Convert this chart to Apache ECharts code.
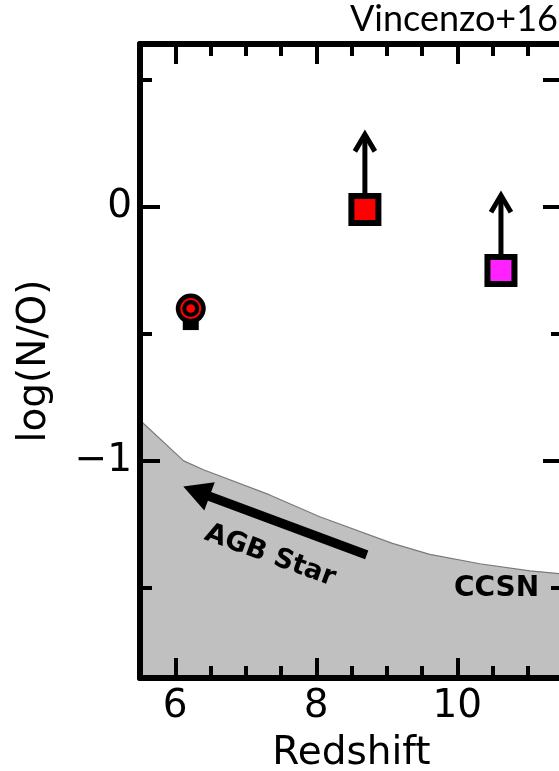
<!DOCTYPE html>
<html>
<head>
<meta charset="utf-8">
<script src="https://cdn.jsdelivr.net/npm/echarts@6/dist/echarts.min.js"></script>
<style>
  html, body { margin: 0; padding: 0; background: #ffffff; }
  #chart { width: 559px; height: 771px; }
</style>
</head>
<body>
<div id="chart"></div>
<script>
// ---- measurements: redshift vs log(N/O) ----
const circleZ = [6.22];
const circleNO = [-0.40];
const circleErrLow = [0.065];

const redZ = [8.69];
const redNO = [-0.01];
const magentaZ = [10.62];
const magentaNO = [-0.25];
const limitLength = 0.30;          // lower-limit arrow length (dex)

// shaded CCSN / AGB region boundary
const bandZ  = [5.5, 6.12, 6.40, 7.34, 8.05, 9.08, 9.61, 10.32, 11.03, 11.5];
const bandNO = [-0.84, -1.0, -1.035, -1.134, -1.22, -1.325, -1.368, -1.405, -1.433, -1.445];

// AGB arrow (tail -> head) and text anchors
const agbArrow = [8.716, -1.370, 6.114, -1.101];
const agbText = [7.344, -1.374];
const ccsnText = [10.557, -1.504];

// axis ticks
const xMajor = [6, 8, 10];
const xMinor = [6.5, 7, 7.5, 8.5, 9, 9.5, 10.5, 11];
const yMajorLeft = [-1, 0];
const yMinorLeft = [-1.5, -0.5, 0.5];
const yMajorRight = [-1, 0, 0.5];
const yMinorRight = [-1.5, -0.5];

const X_MIN = 5.5, X_MAX = 11.5;
const Y_MIN = -1.855, Y_MAX = 0.642;

const FONT = '"DejaVu Sans", sans-serif';
const LINE_W = 6;
const TICK_W = 4;
const MAJOR_LEN = 20;
const MINOR_LEN = 12;

const fmt = v => (v < 0 ? '\u2212' + Math.abs(v) : String(v));

function xAxisDef(position, ticks, len, opts) {
  return Object.assign({
    type: 'value', position: position, min: X_MIN, max: X_MAX, z: 10,
    splitLine: { show: false },
    axisLine: { show: false, onZero: false },
    axisTick: { show: true, inside: true, length: len, customValues: ticks,
                lineStyle: { color: '#000', width: TICK_W } },
    axisLabel: { show: false }
  }, opts || {});
}
function yAxisDef(position, ticks, len, opts) {
  return Object.assign({
    type: 'value', position: position, min: Y_MIN, max: Y_MAX, z: 10,
    splitLine: { show: false },
    axisLine: { show: false, onZero: false },
    axisTick: { show: true, inside: true, length: len, customValues: ticks,
                lineStyle: { color: '#000', width: TICK_W } },
    axisLabel: { show: false }
  }, opts || {});
}

const chart = echarts.init(document.getElementById('chart'), null, { renderer: 'canvas' });

const option = {
  animation: false,
  backgroundColor: '#ffffff',
  grid: { left: 140, right: -4, top: 44, bottom: 93, containLabel: false, outerBoundsMode: 'none' },
  graphic: [{
    type: 'text', right: 1, top: 1, z: 20,
    style: { text: 'Vincenzo+16', font: '36px Lato, "Open Sans", sans-serif', fill: '#000' }
  }],
  xAxis: [
    xAxisDef('bottom', xMajor, MAJOR_LEN, {
      axisLine: { show: true, onZero: false, lineStyle: { color: '#000', width: LINE_W } },
      axisLabel: { show: true, customValues: xMajor, margin: 9, formatter: fmt,
                   color: '#000', fontSize: 39, fontFamily: FONT },
      name: 'Redshift', nameLocation: 'middle', nameGap: 56,
      nameTextStyle: { color: '#000', fontSize: 39, fontFamily: FONT }
    }),
    xAxisDef('bottom', xMinor, MINOR_LEN),
    xAxisDef('top', xMajor, MAJOR_LEN, {
      axisLine: { show: true, onZero: false, lineStyle: { color: '#000', width: LINE_W } }
    }),
    xAxisDef('top', xMinor, MINOR_LEN)
  ],
  yAxis: [
    yAxisDef('left', yMajorLeft, MAJOR_LEN, {
      axisLine: { show: true, onZero: false, lineStyle: { color: '#000', width: LINE_W } },
      axisLabel: { show: true, customValues: yMajorLeft, margin: 8, formatter: fmt,
                   color: '#000', fontSize: 39, fontFamily: FONT },
      name: 'log(N/O)', nameLocation: 'middle', nameGap: 86, nameRotate: 90,
      nameTextStyle: { color: '#000', fontSize: 39, fontFamily: FONT }
    }),
    yAxisDef('left', yMinorLeft, MINOR_LEN),
    yAxisDef('right', yMajorRight, MAJOR_LEN, {
      axisLine: { show: true, onZero: false, lineStyle: { color: '#000', width: LINE_W } }
    }),
    yAxisDef('right', yMinorRight, MINOR_LEN)
  ],
  series: [
    // shaded region
    {
      type: 'line', xAxisIndex: 0, yAxisIndex: 0, z: 1,
      data: bandZ.map((z, i) => [z, bandNO[i]]),
      symbol: 'none', silent: true,
      lineStyle: { color: '#7a7a7a', width: 1.2 },
      areaStyle: { color: '#c0c0c0', opacity: 1, origin: 'start' }
    },
    // AGB arrow
    {
      type: 'custom', xAxisIndex: 0, yAxisIndex: 0, z: 3, silent: true,
      data: [agbArrow],
      renderItem: function (params, api) {
        const t = api.coord([api.value(0), api.value(1)]);
        const h = api.coord([api.value(2), api.value(3)]);
        const dx = h[0] - t[0], dy = h[1] - t[1];
        const L = Math.sqrt(dx * dx + dy * dy);
        const ux = dx / L, uy = dy / L, nx = -uy, ny = ux;
        const hw = 4.6, headLen = 28, headHalf = 15;
        const bx = h[0] - ux * headLen, by = h[1] - uy * headLen;
        return {
          type: 'polygon',
          shape: { points: [
            [t[0] + nx * hw, t[1] + ny * hw],
            [bx + nx * hw, by + ny * hw],
            [bx + nx * headHalf, by + ny * headHalf],
            [h[0], h[1]],
            [bx - nx * headHalf, by - ny * headHalf],
            [bx - nx * hw, by - ny * hw],
            [t[0] - nx * hw, t[1] - ny * hw]
          ] },
          style: { fill: '#000' }
        };
      }
    },
    // region labels
    {
      type: 'custom', xAxisIndex: 0, yAxisIndex: 0, z: 3, silent: true,
      data: [[agbText[0], agbText[1], 0], [ccsnText[0], ccsnText[1], 1]],
      renderItem: function (params, api) {
        const p = api.coord([api.value(0), api.value(1)]);
        const isAgb = api.value(2) === 0;
        return {
          type: 'text', x: p[0], y: p[1],
          rotation: isAgb ? -20 * Math.PI / 180 : 0,
          style: {
            text: isAgb ? 'AGB Star' : 'CCSN',
            font: 'bold ' + (isAgb ? 27 : 28) + 'px ' + FONT,
            fill: '#000', align: 'center', verticalAlign: 'middle'
          }
        };
      }
    },
    // lower-limit arrows
    {
      type: 'custom', xAxisIndex: 0, yAxisIndex: 0, z: 4, silent: true,
      data: redZ.map((z, i) => [z, redNO[i], redNO[i] + limitLength])
        .concat(magentaZ.map((z, i) => [z, magentaNO[i], magentaNO[i] + limitLength])),
      renderItem: function (params, api) {
        const a = api.coord([api.value(0), api.value(1)]);
        const b = api.coord([api.value(0), api.value(2)]);
        const st = { stroke: '#000', lineWidth: 5, fill: null, lineJoin: 'miter' };
        return {
          type: 'group',
          children: [
            { type: 'line', shape: { x1: a[0], y1: a[1], x2: b[0], y2: b[1] + 2 }, style: st },
            { type: 'polyline', shape: { points: [[b[0] - 10, b[1] + 18], [b[0], b[1] + 1], [b[0] + 10, b[1] + 18]] },
              style: st }
          ]
        };
      }
    },
    // squares
    {
      type: 'scatter', xAxisIndex: 0, yAxisIndex: 0, z: 5, silent: true,
      symbol: 'rect', symbolSize: 27,
      data: redZ.map((z, i) => [z, redNO[i]]),
      itemStyle: { color: '#ff0000', borderColor: '#000', borderWidth: 6, opacity: 1 }
    },
    {
      type: 'scatter', xAxisIndex: 0, yAxisIndex: 0, z: 5, silent: true,
      symbol: 'rect', symbolSize: 27,
      data: magentaZ.map((z, i) => [z, magentaNO[i]]),
      itemStyle: { color: '#ff22ff', borderColor: '#000', borderWidth: 6, opacity: 1 }
    },
    // circle with error bar
    {
      type: 'custom', xAxisIndex: 0, yAxisIndex: 0, z: 5, silent: true,
      data: circleZ.map((z, i) => [z, circleNO[i], circleNO[i] - circleErrLow[i]]),
      renderItem: function (params, api) {
        const c = api.coord([api.value(0), api.value(1)]);
        const lo = api.coord([api.value(0), api.value(2)]);
        return {
          type: 'group',
          children: [
            { type: 'line', shape: { x1: c[0], y1: c[1], x2: lo[0], y2: lo[1] },
              style: { stroke: '#000', lineWidth: 6 } },
            { type: 'rect', shape: { x: lo[0] - 8, y: lo[1] - 5, width: 16, height: 10 },
              style: { fill: '#000' } },
            { type: 'circle', shape: { cx: c[0], cy: c[1], r: 15 }, style: { fill: '#000' } },
            { type: 'circle', shape: { cx: c[0], cy: c[1], r: 9.5 },
              style: { fill: null, stroke: '#ff0000', lineWidth: 2 } },
            { type: 'circle', shape: { cx: c[0], cy: c[1], r: 4.3 }, style: { fill: '#ff0000' } }
          ]
        };
      }
    }
  ]
};

chart.setOption(option);
</script>
</body>
</html>
